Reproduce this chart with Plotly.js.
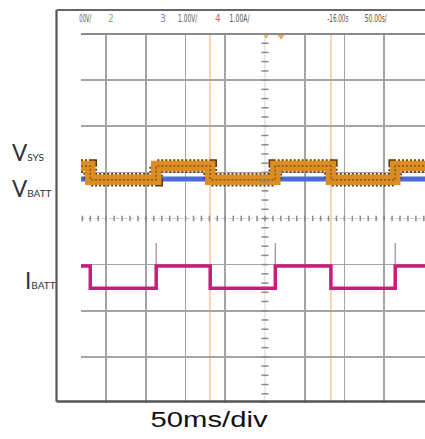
<!DOCTYPE html>
<html>
<head>
<meta charset="utf-8">
<script src="https://cdn.plot.ly/plotly-3.0.1.min.js"></script>
<style>html,body{margin:0;padding:0;background:#fff;}#chart{width:425px;height:439px;}</style>
</head>
<body>
<div id="chart"></div>
<script>
// ---- data (time in ms relative to trigger, levels in screen divisions) ----
const edgeTimes   = [-231.7, -220, -137, -69, 13, 83, 164, 201.5];
const vsysLevels  = [1.14, 0.84, 1.14, 0.84, 1.14, 0.84, 1.14, 1.14];
const vbattLevels = [0.855, 0.85, 0.855, 0.85, 0.855, 0.85, 0.855, 0.855];
const ibattLevels = [-1.03, -1.51, -1.03, -1.51, -1.03, -1.51, -1.03, -1.03];
const spikeTimes  = [-137, 13, 164];
const spikePeak   = -0.53;
const cursorTimes = [-69.3, 83.1];
const markerTimes = [1.3, 20.2];
const gridTimes   = [-200, -150, -100, -50, 50, 100, 150];
const gridDivs    = [-3, -2, -1, 1, 2, 3];

// ---- geometry helpers (pixel -> paper) ----
const L = 81, W = 344, T = 34, H = 369;
const px = x => (x - L) / W;
const py = y => (T + H - y) / H;

const traces = [];
traces.push({x: edgeTimes, y: vbattLevels, mode: 'lines', line: {shape: 'hv', color: '#4a6ad6', width: 5}, hoverinfo: 'skip'});
traces.push({x: edgeTimes, y: vsysLevels, mode: 'lines', line: {shape: 'hv', color: '#5e3608', width: 13.5, dash: '2px,2px'}, hoverinfo: 'skip'});
traces.push({x: edgeTimes, y: vsysLevels, mode: 'lines', line: {shape: 'hv', color: '#db8c22', width: 10.5}, hoverinfo: 'skip'});
traces.push({x: edgeTimes, y: vsysLevels, mode: 'lines', line: {shape: 'hv', color: '#8a5512', width: 1.5, dash: '2px,2px'}, hoverinfo: 'skip'});
const sx = [], sy = [];
spikeTimes.forEach(t => { sx.push(t, t, null); sy.push(ibattLevels[1], spikePeak, null); });
traces.push({x: sx, y: sy, mode: 'lines', line: {color: '#a88898', width: 1.2}, hoverinfo: 'skip'});
traces.push({x: edgeTimes, y: ibattLevels, mode: 'lines', line: {shape: 'hv', color: '#c81d78', width: 3.5}, hoverinfo: 'skip'});
traces.push({x: markerTimes, y: [3.95, 3.95], mode: 'markers', cliponaxis: false,
  marker: {symbol: 'triangle-down', size: [6, 8], color: '#e8801a'}, hoverinfo: 'skip'});
// centre graticule tick marks (decoration)
const vtY = [], vtX = [];
for (let d = -4; d <= 4.001; d += 0.2) { vtY.push(d); vtX.push(0); }
traces.push({x: vtX, y: vtY, mode: 'markers', marker: {symbol: 'line-ew', size: 5, line: {width: 1.5, color: '#8a8a8a'}}, hoverinfo: 'skip'});
const htX = [], htY = [];
for (let t = -230; t <= 200; t += 10) { htX.push(t); htY.push(0); }
traces.push({x: htX, y: htY, mode: 'markers', marker: {symbol: 'line-ns', size: 4, line: {width: 1.5, color: '#8a8a8a'}}, hoverinfo: 'skip'});

const shapes = [];
cursorTimes.forEach(t => shapes.push({type: 'line', xref: 'x', yref: 'paper', x0: t, x1: t, y0: 0, y1: 1,
  line: {color: '#f6b878', width: 1.2}, layer: 'below'}));
shapes.push({type: 'line', xref: 'x', yref: 'paper', x0: 0, x1: 0, y0: 0, y1: 1, line: {color: '#d6d6d6', width: 1}, layer: 'below'});
shapes.push({type: 'line', xref: 'paper', yref: 'y', x0: 0, x1: 1, y0: 0, y1: 0, line: {color: '#cfcfcf', width: 1, dash: '4px,3px'}, layer: 'below'});
shapes.push({type: 'line', xref: 'paper', yref: 'paper', x0: 0, x1: 1, y0: 1, y1: 1, line: {color: '#8a8a8a', width: 2}});
shapes.push({type: 'line', xref: 'paper', yref: 'paper', x0: px(56.5), x1: px(56.5), y0: py(10), y1: py(401.5), line: {color: '#555', width: 2.2}});
shapes.push({type: 'line', xref: 'paper', yref: 'paper', x0: px(56.5), x1: px(426), y0: py(10), y1: py(10), line: {color: '#666', width: 2}});
shapes.push({type: 'line', xref: 'paper', yref: 'paper', x0: px(56.5), x1: px(426), y0: py(401.5), y1: py(401.5), line: {color: '#555', width: 2.4}});

const narrow = 'Liberation Sans Narrow, DejaVu Sans Condensed, Arial Narrow, Liberation Sans, sans-serif';
// target widths (px) used to condense header text like the reference
const fitWidths = [];
const annotations = [];
const txt = (s, x, y, size, w, col) => { fitWidths.push(w); annotations.push({xref: 'paper', yref: 'paper', x: px(x), y: py(y),
  text: s, showarrow: false, xanchor: 'center', yanchor: 'middle', font: {family: narrow, size: size, color: col}}); };
txt('00V/', 86, 19, 10, 12, '#555');
txt('2', 111, 19, 10, 0, '#6cc06c');
txt('3', 163, 19, 10, 0, '#7b7be6');
txt('1.00V/', 187.5, 19, 10, 19, '#555');
txt('4', 218, 19, 10, 0, '#e85a6a');
txt('1.00A/', 240, 19, 10, 20, '#555');
txt('-16.00s', 337.5, 19, 10, 21, '#555');
txt('50.00s/', 376, 19, 10, 22, '#555');
// channel labels (Lato is the narrowest installed face)
const lbl = (s, x, y) => { fitWidths.push(0); annotations.push({xref: 'paper', yref: 'paper', x: px(x), y: py(y),
  text: s, showarrow: false, xanchor: 'left', yanchor: 'middle', font: {family: 'Lato, sans-serif', size: 22.5, color: '#333'}}); };
lbl('V<span style="font-size:10px">SYS</span>', 10, 152);
lbl('V<span style="font-size:10px">BATT</span>', 10, 188);
lbl('I<span style="font-size:10px">BATT</span>', 23, 280);
fitWidths.push(117);
annotations.push({xref: 'paper', yref: 'paper', x: px(209), y: py(419), xanchor: 'center', yanchor: 'middle', showarrow: false,
  text: '50ms/div', font: {family: 'Liberation Sans, Arial, sans-serif', size: 22, color: '#111'}});

const layout = {
  width: 425, height: 439,
  margin: {l: L, r: 0, t: T, b: 439 - T - H, pad: 0},
  paper_bgcolor: '#fff', plot_bgcolor: '#fff',
  showlegend: false,
  xaxis: {range: [-231.7, 201.5], tickvals: gridTimes, showticklabels: false, ticks: '', showgrid: true,
    gridcolor: '#a4a4a4', gridwidth: 1.6, zeroline: false, showline: false, fixedrange: true},
  yaxis: {range: [-4, 4], tickvals: gridDivs, showticklabels: false, ticks: '', showgrid: true,
    gridcolor: '#a4a4a4', gridwidth: 1.6, zeroline: false, showline: false, fixedrange: true},
  shapes: shapes,
  annotations: annotations
};
Plotly.newPlot('chart', traces, layout, {staticPlot: true, displayModeBar: false}).then(gd => {
  gd.querySelectorAll('.annotation').forEach(g => {
    const i = +g.getAttribute('data-index');
    const w = fitWidths[i];
    const t = g.querySelector('text.annotation-text');
    if (t && w) { t.setAttribute('textLength', w); t.setAttribute('lengthAdjust', 'spacingAndGlyphs'); }
  });
});
</script>
</body>
</html>
